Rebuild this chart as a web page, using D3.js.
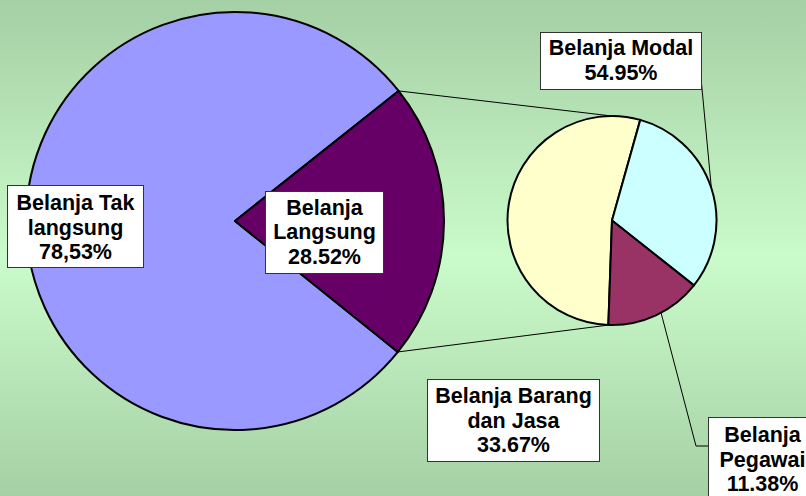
<!DOCTYPE html>
<html>
<head>
<meta http-equiv="Content-Type" content="text/html; charset=UTF-8">
<script src="https://cdn.jsdelivr.net/npm/d3@7"></script>
<style>
body { margin: 0; }
svg { display: block; }
.lbl { font-family: "Liberation Sans", Arial, sans-serif; font-weight: bold; font-size: 21.5px; fill: #000; }
</style>
</head>
<body>
<div class="container"></div>
<script>

var width = 806;
var height = 496;

// main pie: Belanja Tak langsung / Belanja Langsung
var mainNames = ["Belanja Tak langsung", "Belanja Langsung"];
var mainValues = [78.53, 21.47];
var mainLabels = [["Belanja Tak", "langsung", "78,53%"], ["Belanja", "Langsung", "28.52%"]];

// second pie, breaks down Belanja Langsung
var subNames = ["Belanja Barang dan Jasa", "Belanja Modal", "Belanja Pegawai"];
var subValues = [53.8, 31.3, 14.9];
var subLabels = [["Belanja Modal", "54.95%"], ["Belanja Barang", "dan Jasa", "33.67%"], ["Belanja", "Pegawai", "11.38%"]];

var mainColors = ["#9999ff", "#660066"];
var subColors = ["#ffffcc", "#ccffff", "#993366"];

var deg = Math.PI / 180;

var svg = d3.select(".container")
            .append("svg")
                .attr("width", width)
                .attr("height", height);

// background gradient
var grad = svg.append("defs").append("linearGradient")
              .attr("id", "bg")
              .attr("x1", 0).attr("y1", 0).attr("x2", 0).attr("y2", 1);
grad.append("stop").attr("offset", "0%").attr("stop-color", "#a5cfa5");
grad.append("stop").attr("offset", "52%").attr("stop-color", "#cafbca");
grad.append("stop").attr("offset", "100%").attr("stop-color", "#a5d0a5");
svg.append("rect").attr("width", width).attr("height", height).attr("fill", "url(#bg)");

var main = { cx: 235, cy: 221, r: 209 };
var sub = { cx: 612, cy: 220.5, r: 104.5 };

var mainPie = d3.pie().sort(null).value(function(d) { return d; })
                .startAngle(128.8 * deg).endAngle(488.8 * deg)(mainValues);
var subPie = d3.pie().sort(null).value(function(d) { return d; })
               .startAngle(182 * deg).endAngle(542 * deg)(subValues);

var mainArc = d3.arc().innerRadius(0).outerRadius(main.r);
var subArc = d3.arc().innerRadius(0).outerRadius(sub.r);

// point on a circle, angle measured clockwise from 12 o'clock
function polar(c, a, r) {
    return [c.cx + r * Math.sin(a), c.cy - r * Math.cos(a)];
}

// connector lines between the two pies
var brk = mainPie[1];
var pTop = polar(main, brk.startAngle, main.r);
var pBot = polar(main, brk.endAngle, main.r);
var lines = svg.append("g").attr("stroke", "#000").attr("stroke-width", 1);
lines.append("line")
     .attr("x1", pTop[0]).attr("y1", pTop[1])
     .attr("x2", sub.cx).attr("y2", sub.cy - sub.r);
lines.append("line")
     .attr("x1", pBot[0]).attr("y1", pBot[1])
     .attr("x2", sub.cx - 3).attr("y2", sub.cy + sub.r);

svg.append("g")
   .attr("transform", "translate(" + main.cx + "," + main.cy + ")")
   .selectAll("path")
   .data(mainPie)
   .enter().append("path")
       .attr("d", mainArc)
       .attr("fill", function(d, i) { return mainColors[i]; })
       .attr("stroke", "#000")
       .attr("stroke-width", 2)
       .attr("stroke-linejoin", "round");

svg.append("g")
   .attr("transform", "translate(" + sub.cx + "," + sub.cy + ")")
   .selectAll("path")
   .data(subPie)
   .enter().append("path")
       .attr("d", subArc)
       .attr("fill", function(d, i) { return subColors[i]; })
       .attr("stroke", "#000")
       .attr("stroke-width", 2)
       .attr("stroke-linejoin", "round");

// leader lines to the sub pie labels
var leaders = svg.append("g").attr("fill", "none").attr("stroke", "#000").attr("stroke-width", 1);
var pModal = polar(sub, 72 * deg, sub.r);
leaders.append("polyline").attr("points", [[701, 78], pModal].join(" "));
var pPeg = polar(sub, 152 * deg, sub.r);
leaders.append("polyline").attr("points", [pPeg, [696, 446], [708, 446]].join(" "));

// label boxes
var boxes = [
    { lines: mainLabels[0], x: 7, y: 185, w: 136, h: 82, base: 25 },
    { lines: mainLabels[1], x: 265, y: 191, w: 118, h: 82, base: 23.5 },
    { lines: subLabels[0], x: 540, y: 32, w: 161, h: 57, base: 23 },
    { lines: subLabels[1], x: 427, y: 379, w: 172, h: 82, base: 24 },
    { lines: subLabels[2], x: 708, y: 417, w: 108, h: 90, base: 25 }
];

var lg = svg.selectAll("g.box")
            .data(boxes)
            .enter().append("g")
                .attr("class", "box");

lg.append("rect")
  .attr("x", function(d) { return d.x + 0.5; })
  .attr("y", function(d) { return d.y + 0.5; })
  .attr("width", function(d) { return d.w; })
  .attr("height", function(d) { return d.h; })
  .attr("fill", "#fff")
  .attr("stroke", "#333")
  .attr("stroke-width", 1);

lg.each(function(d) {
    var t = d3.select(this).append("text")
              .attr("class", "lbl")
              .attr("text-anchor", "middle");
    d.lines.forEach(function(s, i) {
        t.append("tspan")
         .attr("x", d.x + d.w / 2 + 0.5)
         .attr("y", d.y + d.base + i * 24.5)
         .text(s);
    });
});

</script>
</body>
</html>
